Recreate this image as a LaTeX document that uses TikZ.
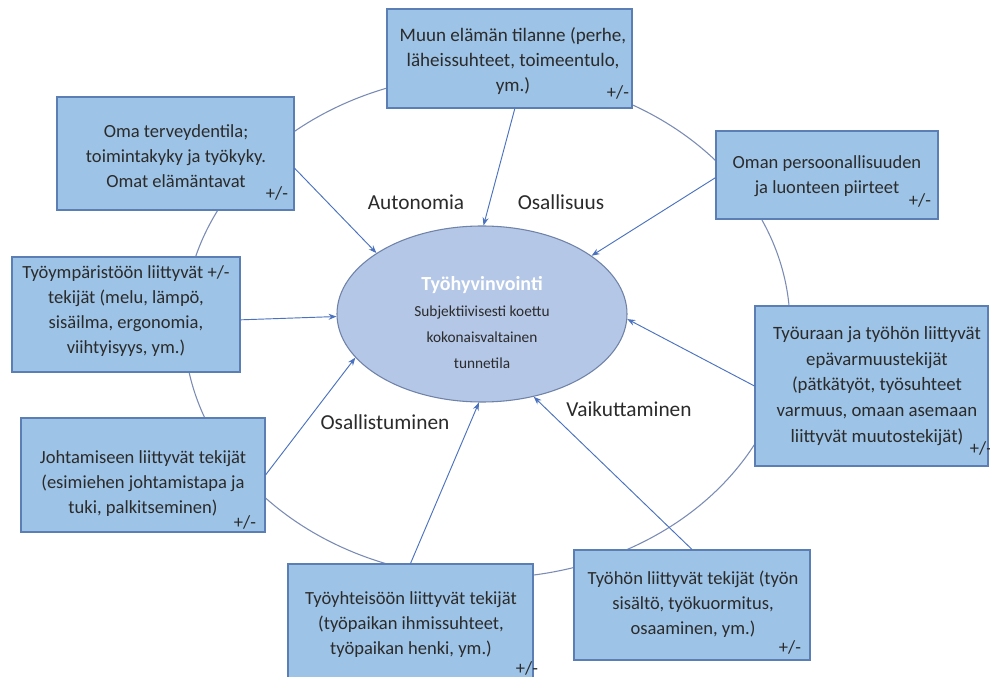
\documentclass[tikz,border=0pt]{standalone}
\usepackage{fontspec}
\setmainfont{Carlito}
\usetikzlibrary{shapes.geometric,arrows.meta}
\definecolor{boxfill}{HTML}{9DC3E6}
\definecolor{boxdraw}{HTML}{5B7FB5}
\definecolor{ellfill}{HTML}{B4C7E7}
\definecolor{elldraw}{HTML}{6F82A8}
\definecolor{arrowc}{HTML}{4A72C0}
\definecolor{ringc}{HTML}{7A8CB5}
\definecolor{txt}{HTML}{2B2B2B}
\begin{document}
\begin{tikzpicture}[x=0.75pt,y=-0.75pt,
 infobox/.style={draw=boxdraw, fill=boxfill, line width=0.8pt, inner sep=0pt},
 boxtext/.style={align=center, text=txt, inner sep=0pt, font=\fontsize{13.9}{18.75}\selectfont},
 pm/.style={text=txt, font=\fontsize{13.9}{16}\selectfont, inner sep=0pt},
 conn/.style={draw=arrowc, line width=0.7pt, -{Stealth[length=6pt,width=4.5pt]}},
 lbl/.style={text=txt, font=\fontsize{16}{18}\selectfont, inner sep=0pt}]
\useasboundingbox (0,0) rectangle (990,677);
\fill[white] (0,0) rectangle (990,677);
\draw[ringc, line width=0.8pt] (487,326) ellipse [x radius=227.25pt, y radius=189pt];
\node[draw=elldraw, fill=ellfill, ellipse, minimum width=217.5pt, minimum height=132pt, inner sep=0pt, line width=0.8pt] (e) at (482,314) {};
\node[align=center, inner sep=0pt, text=txt, font=\fontsize{11.5}{19.5}\selectfont] (et) at (482,323) {{\fontsize{15}{19.5}\selectfont\bfseries\color{white}Työhyvinvointi}\\Subjektiivisesti koettu\\kokonaisvaltainen\\tunnetila};

\node[infobox, minimum width=183.75pt, minimum height=74.25pt] (b1) at (509.5,58.5) {};
\node[infobox, minimum width=177.75pt, minimum height=84.75pt] (b2) at (175.5,153.5) {};
\node[infobox, minimum width=166.5pt, minimum height=66pt] (b3) at (827,175) {};
\node[infobox, minimum width=171pt, minimum height=86.25pt] (b4) at (126,314.5) {};
\node[infobox, minimum width=174.75pt, minimum height=120pt] (b5) at (871.5,386) {};
\node[infobox, minimum width=183pt, minimum height=85.5pt] (b6) at (143,475) {};
\node[infobox, minimum width=183.75pt, minimum height=88.5pt] (b7) at (410.5,623) {};
\node[infobox, minimum width=177pt, minimum height=82.5pt] (b8) at (692,605) {};

\node[boxtext, font=\fontsize{14.3}{18.75}\selectfont] (t1) at (513,61) {Muun elämän tilanne (perhe,\\läheissuhteet, toimeentulo,\\ym.)};
\node[boxtext] (t2) at (176,156) {Oma terveydentila;\\toimintakyky ja työkyky.\\Omat elämäntavat};
\node[boxtext] (t3) at (827,176) {Oman persoonallisuuden\\ja luonteen piirteet};
\node[boxtext] (t4) at (126,311) {Työympäristöön liittyvät +/-\\tekijät (melu, lämpö,\\sisäilma, ergonomia,\\viihtyisyys, ym.)};
\node[boxtext, font=\fontsize{14.1}{19.2}\selectfont] (t5) at (877,386) {Työuraan ja työhön liittyvät\\epävarmuustekijät\\(pätkätyöt, työsuhteet\\varmuus, omaan asemaan\\liittyvät muutostekijät)};
\node[boxtext] (t6) at (143,484) {Johtamiseen liittyvät tekijät\\(esimiehen johtamistapa ja\\tuki, palkitseminen)};
\node[boxtext] (t7) at (411,625) {Työyhteisöön liittyvät tekijät\\(työpaikan ihmissuhteet,\\työpaikan henki, ym.)};
\node[boxtext] (t8) at (693,604) {Työhön liittyvät tekijät (työn\\sisältö, työkuormitus,\\osaaminen, ym.)};

\node[pm] (pm1) at (618,92) {+/-};
\node[pm] (pm2) at (277,193) {+/-};
\node[pm] (pm3) at (920,200) {+/-};
\node[pm] (pm5) at (981,448) {+/-};
\node[pm] (pm6) at (245,522) {+/-};
\node[pm] (pm7) at (527,668) {+/-};
\node[pm] (pm8) at (790,647) {+/-};

\node[lbl] (l1) at (416,202) {Autonomia};
\node[lbl] (l2) at (561,202) {Osallisuus};
\node[lbl] (l3) at (385,422) {Osallistuminen};
\node[lbl] (l4) at (629,409) {Vaikuttaminen};

\draw[conn] ([xshift=4pt]b1.south) -- (e.89);
\draw[conn] ([yshift=-11pt]b2.east) -- (e.150);
\draw[conn] ([yshift=-2pt]b3.west) -- (e.28);
\draw[conn] ([yshift=-4pt]b4.east) -- (e.181);
\draw[conn] (b5.west) -- (e.358);
\draw[conn] (b6.east) -- (e.199);
\draw[conn] (b7.north) -- (e.268);
\draw[conn] (b8.north) -- (e.302);
\end{tikzpicture}
\end{document}
